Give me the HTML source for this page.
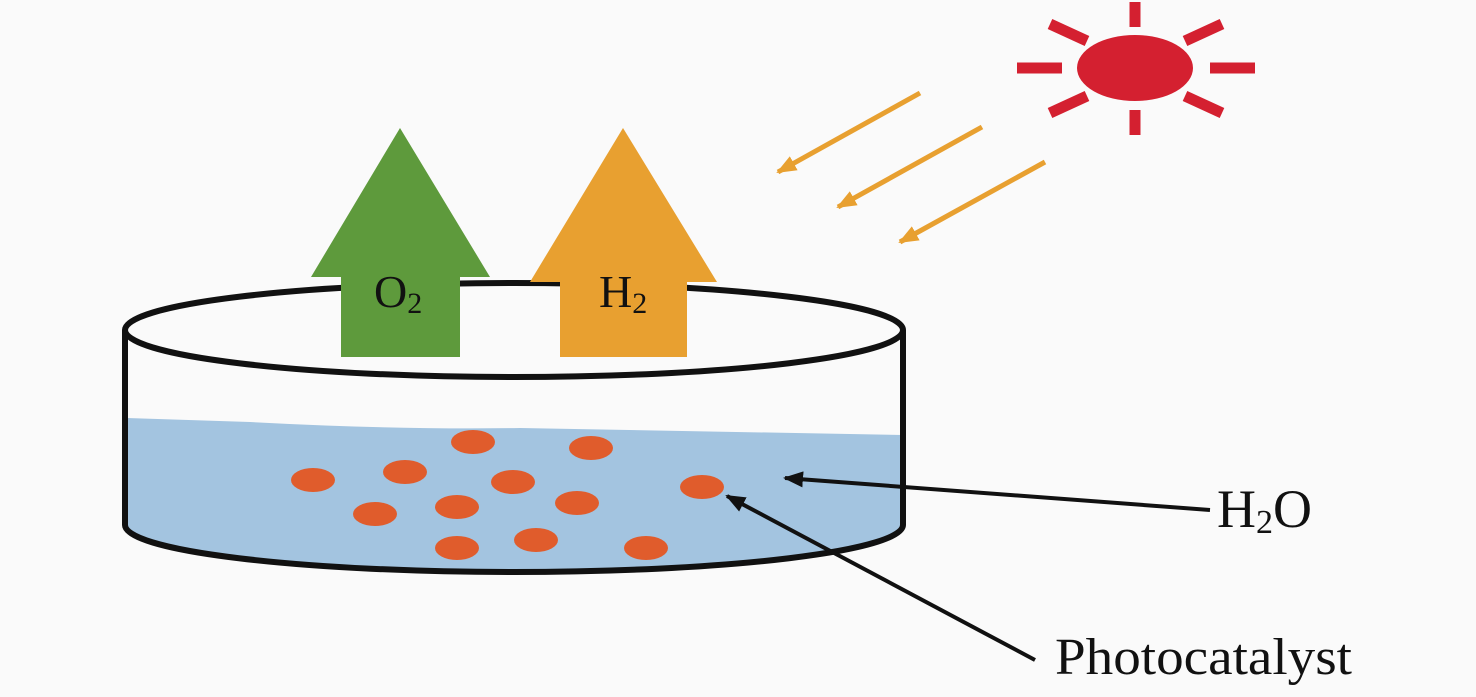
<!DOCTYPE html>
<html><head><style>html,body{margin:0;padding:0;background:#fafafa}</style></head>
<body>
<svg width="1476" height="692" viewBox="0 0 1476 692" xmlns="http://www.w3.org/2000/svg" font-family="Liberation Serif, serif">
<rect width="1476" height="692" fill="#fafafa"/>
<defs>
<marker id="ab" markerWidth="20" markerHeight="16" refX="18" refY="8" orient="auto" markerUnits="userSpaceOnUse" viewBox="0 0 20 16"><path d="M0,0 L20,8 L0,16 z" fill="#111"/></marker>
<marker id="ao" markerWidth="20" markerHeight="16" refX="18" refY="8" orient="auto" viewBox="0 0 20 16" markerUnits="userSpaceOnUse"><path d="M0,0 L20,8 L0,16 z" fill="#e8a030"/></marker>
</defs>
<path d="M126,418 L250,422 Q400,430 520,428 L903,435 L903,525 A389,47 0 0 1 126,525 Z" fill="#a3c4e0"/>
<ellipse cx="514" cy="330" rx="389" ry="47" fill="none" stroke="#111" stroke-width="6"/>
<path d="M125,330 L125,525 A389,47 0 0 0 903,525 L903,330" fill="none" stroke="#111" stroke-width="6"/>
<g fill="#e05c2c">
<ellipse cx="313" cy="480" rx="22" ry="12"/><ellipse cx="405" cy="472" rx="22" ry="12"/><ellipse cx="473" cy="442" rx="22" ry="12"/><ellipse cx="591" cy="448" rx="22" ry="12"/><ellipse cx="513" cy="482" rx="22" ry="12"/><ellipse cx="457" cy="507" rx="22" ry="12"/><ellipse cx="577" cy="503" rx="22" ry="12"/><ellipse cx="375" cy="514" rx="22" ry="12"/><ellipse cx="457" cy="548" rx="22" ry="12"/><ellipse cx="536" cy="540" rx="22" ry="12"/><ellipse cx="646" cy="548" rx="22" ry="12"/><ellipse cx="702" cy="487" rx="22" ry="12"/>
</g>
<path d="M400,128 L490,277 L460,277 L460,357 L341,357 L341,277 L311,277 Z" fill="#5e9a3c"/>
<text x="374" y="307" font-size="46" fill="#111">O<tspan font-size="30" dy="6">2</tspan></text>
<path d="M623,128 L717,282 L687,282 L687,357 L560,357 L560,282 L530,282 Z" fill="#e8a030"/>
<text x="599" y="307" font-size="46" fill="#111">H<tspan font-size="30" dy="6">2</tspan></text>
<ellipse cx="1135" cy="68" rx="58" ry="33" fill="#d42030"/>
<g stroke="#d42030" stroke-width="11">
<line x1="1135" y1="2" x2="1135" y2="27"/><line x1="1135" y1="110" x2="1135" y2="135"/>
<line x1="1017" y1="68" x2="1062" y2="68"/><line x1="1210" y1="68" x2="1255" y2="68"/>
<line x1="1050" y1="24" x2="1087" y2="41"/><line x1="1222" y1="24" x2="1185" y2="41"/>
<line x1="1050" y1="113" x2="1087" y2="96"/><line x1="1222" y1="113" x2="1185" y2="96"/>
</g>
<g stroke="#e8a030" stroke-width="5" marker-end="url(#ao)">
<line x1="920" y1="93" x2="778" y2="172"/><line x1="982" y1="127" x2="838" y2="207"/><line x1="1045" y1="162" x2="900" y2="242"/>
</g>
<g stroke="#111" stroke-width="4" marker-end="url(#ab)">
<line x1="1210" y1="510" x2="785" y2="478"/>
<line x1="1035" y1="660" x2="727" y2="496"/>
</g>
<text x="1217" y="527" font-size="54" fill="#111">H<tspan font-size="34" dy="6">2</tspan><tspan dy="-6">O</tspan></text>
<text x="1055" y="674" font-size="52" fill="#111" textLength="297" lengthAdjust="spacingAndGlyphs">Photocatalyst</text>
</svg>
</body></html>
